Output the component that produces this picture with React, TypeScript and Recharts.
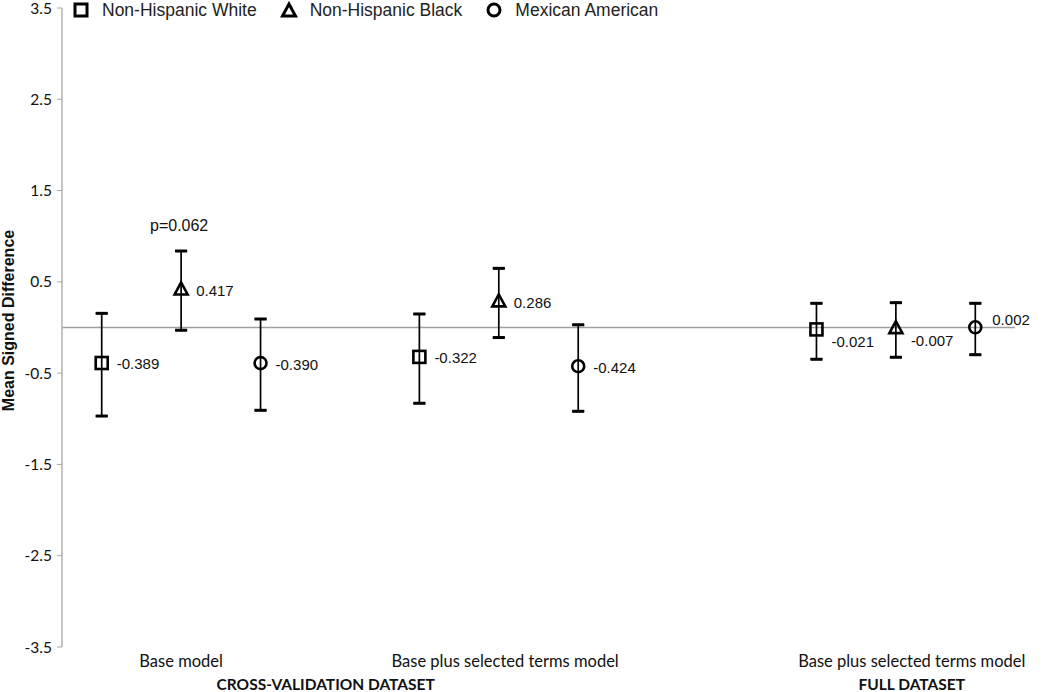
import React from 'react';
import { ComposedChart, Scatter, XAxis, YAxis, ErrorBar, ReferenceLine } from 'recharts';

const seriesNames = ['Non-Hispanic White', 'Non-Hispanic Black', 'Mexican American'];
const whiteSlots = [0, 4, 9];
const blackSlots = [1, 5, 10];
const mexicanSlots = [2, 6, 11];
const whiteValues = [-0.389, -0.322, -0.021];
const blackValues = [0.417, 0.286, -0.007];
const mexicanValues = [-0.39, -0.424, 0.002];
const whiteLow = [-0.97, -0.83, -0.348];
const whiteHigh = [0.155, 0.148, 0.265];
const blackLow = [-0.03, -0.11, -0.326];
const blackHigh = [0.838, 0.648, 0.272];
const mexicanLow = [-0.907, -0.918, -0.298];
const mexicanHigh = [0.093, 0.03, 0.265];

const categoryLabels = ['Base model', 'Base plus selected terms model', 'Base plus selected terms model'];
const categoryTickPositions = [1, 5.08, 10.2];
const datasetLabels = ['CROSS-VALIDATION DATASET', 'FULL DATASET'];
const datasetTickPositions = [2.82, 10.2];
const yTicks = [-3.5, -2.5, -1.5, -0.5, 0.5, 1.5, 2.5, 3.5];
const annotationText = 'p=0.062';

const LABEL_FONT = "'Liberation Sans', Arial, sans-serif";
const CAL_FONT = "Lato, 'Open Sans', sans-serif";

function buildRows(slots: number[], values: number[], low: number[], high: number[]) {
  return slots.map((s, i) => ({
    x: s,
    y: values[i],
    err: [values[i] - low[i], high[i] - values[i]],
    i,
  }));
}

function buildCaps(slots: number[], low: number[], high: number[]) {
  return slots.flatMap((s, i) => [
    { x: s, y: low[i] },
    { x: s, y: high[i] },
  ]);
}

const whiteRows = buildRows(whiteSlots, whiteValues, whiteLow, whiteHigh);
const blackRows = buildRows(blackSlots, blackValues, blackLow, blackHigh);
const mexicanRows = buildRows(mexicanSlots, mexicanValues, mexicanLow, mexicanHigh);
const capRows = [
  ...buildCaps(whiteSlots, whiteLow, whiteHigh),
  ...buildCaps(blackSlots, blackLow, blackHigh),
  ...buildCaps(mexicanSlots, mexicanLow, mexicanHigh),
];

type Placement = 'right' | 'belowRight' | 'aboveRight';
const whitePlacement: Placement[] = ['right', 'right', 'belowRight'];
const blackPlacement: Placement[] = ['right', 'right', 'belowRight'];
const mexicanPlacement: Placement[] = ['right', 'right', 'aboveRight'];

function Marker({ kind, cx, cy, sw = 2.6 }: { kind: string; cx: number; cy: number; sw?: number }) {
  if (kind === 'square') {
    return <rect x={cx - 6} y={cy - 6} width={12} height={12} fill="none" stroke="#000" strokeWidth={sw} />;
  }
  if (kind === 'triangle') {
    return (
      <polygon
        points={`${cx},${cy - 7} ${cx - 6.5},${cy + 5} ${cx + 6.5},${cy + 5}`}
        fill="none"
        stroke="#000"
        strokeWidth={sw}
        strokeLinejoin="miter"
      />
    );
  }
  return <circle cx={cx} cy={cy} r={6} fill="none" stroke="#000" strokeWidth={sw} />;
}

function makeShape(kind: string, placement: Placement[], annotateIndex: number | null) {
  return (props: any) => {
    const { cx, cy, payload } = props;
    if (cx == null || cy == null) return null;
    const i = payload.i;
    const p = placement[i];
    let tx = cx + 15;
    let ty = cy + 1;
    if (p === 'belowRight') {
      tx = cx + 15;
      ty = cy + 12;
    } else if (p === 'aboveRight') {
      tx = cx + 17;
      ty = cy - 8;
    }
    return (
      <g>
        <Marker kind={kind} cx={cx} cy={cy} />
        <text x={tx} y={ty} dy="0.36em" fontSize={15} fontFamily={LABEL_FONT} fill="#111">
          {payload.y.toFixed(3)}
        </text>
        {annotateIndex === i ? (
          <text x={cx - 2} y={cy - 64} dy="0.36em" textAnchor="middle" fontSize={16} fontFamily={LABEL_FONT} fill="#111">
            {annotationText}
          </text>
        ) : null}
      </g>
    );
  };
}

const capShape = (props: any) => {
  const { cx, cy } = props;
  if (cx == null || cy == null) return null;
  return <line x1={cx - 6} x2={cx + 6} y1={cy} y2={cy} stroke="#000" strokeWidth={3} />;
};

function LegendMarker({ kind }: { kind: string }) {
  return (
    <svg width={18} height={18} style={{ display: 'block' }}>
      <Marker kind={kind} cx={9} cy={kind === 'triangle' ? 10 : 9} sw={3} />
    </svg>
  );
}

const legendKinds = ['square', 'triangle', 'circle'];

export default function App() {
  return (
    <div style={{ position: 'absolute', left: 0, top: 0, width: 1050, height: 692, background: '#fff' }}>
      <ComposedChart width={1050} height={692} margin={{ top: 8, right: 35, bottom: 0, left: 0 }}>
        <XAxis
          type="number"
          dataKey="x"
          domain={[-0.5, 11.5]}
          ticks={categoryTickPositions}
          tickFormatter={(v: number) => categoryLabels[categoryTickPositions.indexOf(v)] ?? ''}
          axisLine={false}
          tickLine={false}
          height={24}
          interval={0}
          tick={{ fontSize: 16.5, fontFamily: CAL_FONT, fill: '#111' }}
          tickMargin={2}
        />
        <XAxis
          xAxisId="ds"
          type="number"
          dataKey="x"
          domain={[-0.5, 11.5]}
          allowDataOverflow
          ticks={datasetTickPositions}
          tickFormatter={(v: number) => datasetLabels[datasetTickPositions.indexOf(v)] ?? ''}
          axisLine={false}
          tickLine={false}
          height={21}
          interval={0}
          tick={{ fontSize: 15.5, fontFamily: CAL_FONT, fontWeight: 700, fill: '#111' }}
          tickMargin={2}
        />
        <YAxis
          type="number"
          dataKey="y"
          domain={[-3.5, 3.5]}
          ticks={yTicks}
          interval={0}
          width={62}
          axisLine={{ stroke: '#a6a6a6', strokeWidth: 1.3 }}
          tickLine={{ stroke: '#a6a6a6' }}
          tickSize={5}
          tickMargin={5}
          tick={{ fontSize: 15.5, fontFamily: CAL_FONT, fill: '#111' }}
          label={{
            content: (p: any) => {
              const vb = p.viewBox || { y: 8, height: 639 };
              const cy = vb.y + vb.height / 2 - 7;
              return (
                <text
                  x={14}
                  y={cy}
                  transform={`rotate(-90, 14, ${cy})`}
                  textAnchor="middle"
                  fontSize={16}
                  fontWeight={700}
                  fontFamily={LABEL_FONT}
                  fill="#111"
                >
                  Mean Signed Difference
                </text>
              );
            },
          }}
        />
        <ReferenceLine y={0} stroke="#a0a0a0" strokeWidth={1.3} />
        <Scatter name={seriesNames[0]} data={whiteRows} isAnimationActive={false} shape={makeShape('square', whitePlacement, null)}>
          <ErrorBar dataKey="err" direction="y" width={6} stroke="#000" strokeWidth={1.7} />
        </Scatter>
        <Scatter name={seriesNames[1]} data={blackRows} isAnimationActive={false} shape={makeShape('triangle', blackPlacement, 0)}>
          <ErrorBar dataKey="err" direction="y" width={6} stroke="#000" strokeWidth={1.7} />
        </Scatter>
        <Scatter name={seriesNames[2]} data={mexicanRows} isAnimationActive={false} shape={makeShape('circle', mexicanPlacement, null)}>
          <ErrorBar dataKey="err" direction="y" width={6} stroke="#000" strokeWidth={1.7} />
        </Scatter>
        <Scatter name="caps" data={capRows} isAnimationActive={false} shape={capShape} legendType="none" />
      </ComposedChart>
      <div
        style={{
          position: 'absolute',
          left: 72,
          top: 0,
          display: 'flex',
          alignItems: 'center',
          height: 20,
          fontFamily: LABEL_FONT,
          fontSize: 17.5,
          color: '#222',
          whiteSpace: 'nowrap',
        }}
      >
        {seriesNames.map((n, k) => (
          <div key={n} style={{ display: 'flex', alignItems: 'center', marginRight: 23 }}>
            <LegendMarker kind={legendKinds[k]} />
            <span style={{ marginLeft: 12 }}>{n}</span>
          </div>
        ))}
      </div>
    </div>
  );
}
